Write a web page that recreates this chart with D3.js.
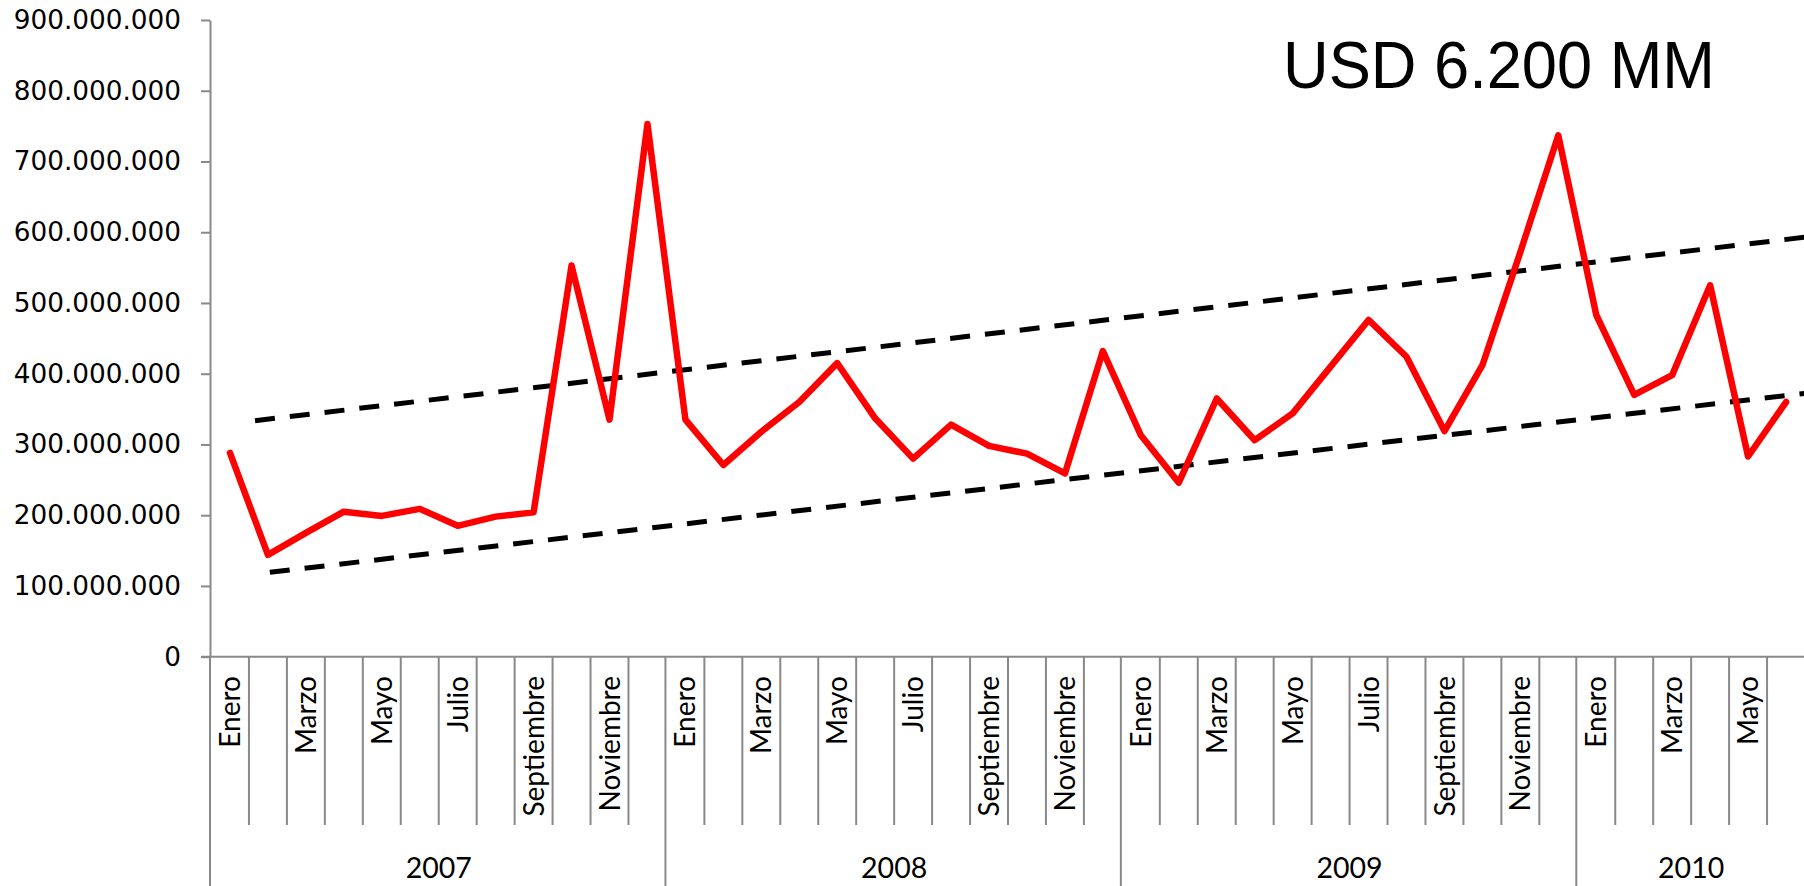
<!DOCTYPE html>
<html>
<head>
<meta charset="utf-8">
<script src="https://cdn.jsdelivr.net/npm/d3@7"></script>
<style>
  html, body { margin: 0; padding: 0; background: #fff; }
  svg { display: block; }
</style>
</head>
<body>
<div id="chart"></div>
<script>
// Monthly values, USD millions
const values2007 = [288, 144, 175, 205, 199, 209, 185, 198, 204, 553, 335, 753];
const values2008 = [335, 271, 318, 360, 415, 337, 280, 328, 298, 287, 259, 432];
const values2009 = [313, 246, 365, 306, 344, 410, 476, 424, 319, 412, 572, 737];
const values2010 = [483, 370, 398, 525, 283, 360];

const monthNames = ["Enero", "Febrero", "Marzo", "Abril", "Mayo", "Junio", "Julio",
  "Agosto", "Septiembre", "Octubre", "Noviembre", "Diciembre"];
const years = ["2007", "2008", "2009", "2010"];
const yTicks = [0, 100, 200, 300, 400, 500, 600, 700, 800, 900];

// Channel lines: [month index, value in millions]
const upperTrend = [[0.66, 333.6], [41.5, 593]];
const lowerTrend = [[1.05, 119.3], [41.5, 372.3]];

const titleText = "USD 6.200 MM";

// Build the series
const yearValues = [values2007, values2008, values2009, values2010];
const data = [];
yearValues.forEach((vals, yi) => {
  vals.forEach((v, mi) => {
    data.push({ i: data.length, year: years[yi], month: monthNames[mi], mIdx: mi, value: v });
  });
});

// Dimensions
const width = 1804;
const height = 886;
const plot = { left: 211, right: 1805, top: 20, bottom: 656.7 };
const axisGray = "#898989";

const svg = d3
  .select("#chart")
  .append("svg")
  .attr("width", width)
  .attr("height", height);

// Scales
const xBand = d3.scaleBand().domain(data.map((d) => d.i)).range([plot.left, plot.right]).padding(0);
const xIdx = d3.scaleLinear().domain([-0.5, data.length - 0.5]).range([plot.left, plot.right]);
const yScale = d3.scaleLinear().domain([0, 900]).range([plot.bottom, plot.top]);

const locale = d3.formatLocale({ decimal: ",", thousands: ".", grouping: [3], currency: ["", ""] });
const fmt = locale.format(",");

// Y axis
const yAxis = svg
  .append("g")
  .attr("transform", `translate(${plot.left - 1},0)`)
  .call(
    d3.axisLeft(yScale)
      .tickValues(yTicks)
      .tickSize(9)
      .tickSizeOuter(0)
      .tickPadding(20)
      .tickFormat((d) => fmt(d * 1e6))
  );
yAxis.select(".domain").attr("stroke", axisGray).attr("stroke-width", 2);
yAxis.selectAll(".tick line").attr("stroke", axisGray).attr("stroke-width", 2);
yAxis.selectAll(".tick text")
  .attr("fill", "#000")
  .style("font-family", "'DejaVu Sans', sans-serif")
  .style("font-size", "26.3px");

// Category axis: month cells and year cells
const yearStarts = [];
let acc = 0;
yearValues.forEach((vals, yi) => {
  yearStarts.push({ year: years[yi], start: acc, count: vals.length });
  acc += vals.length;
});
const yearStartIdx = new Set(yearStarts.map((d) => d.start));

const monthBounds = d3.range(1, data.length + 1).filter((i) => !yearStartIdx.has(i));

svg.append("g")
  .selectAll("line")
  .data(monthBounds)
  .enter()
  .append("line")
  .attr("x1", (i) => xIdx(i - 0.5))
  .attr("x2", (i) => xIdx(i - 0.5))
  .attr("y1", plot.bottom)
  .attr("y2", 825)
  .attr("stroke", axisGray)
  .attr("stroke-width", 2);

svg.append("g")
  .selectAll("line")
  .data(yearStarts)
  .enter()
  .append("line")
  .attr("x1", (d) => xIdx(d.start - 0.5) - 1)
  .attr("x2", (d) => xIdx(d.start - 0.5) - 1)
  .attr("y1", plot.bottom)
  .attr("y2", height)
  .attr("stroke", axisGray)
  .attr("stroke-width", 2);

// horizontal category axis line
svg.append("line")
  .attr("x1", plot.left - 10)
  .attr("x2", width)
  .attr("y1", plot.bottom)
  .attr("y2", plot.bottom)
  .attr("stroke", axisGray)
  .attr("stroke-width", 2);

// month labels (every second month)
svg.append("g")
  .selectAll("text")
  .data(data.filter((d) => d.mIdx % 2 === 0))
  .enter()
  .append("text")
  .attr("transform", (d) => `translate(${xBand(d.i) + xBand.bandwidth() / 2},676) rotate(-90)`)
  .attr("text-anchor", "end")
  .attr("dy", "0.36em")
  .style("font-family", "Lato, sans-serif")
  .style("font-size", "28px")
  .attr("fill", "#000")
  .text((d) => d.month);

// year labels
svg.append("g")
  .selectAll("text")
  .data(yearStarts)
  .enter()
  .append("text")
  .attr("x", (d) => (xIdx(d.start - 0.5) + xIdx(d.start + d.count - 0.5)) / 2)
  .attr("y", 878)
  .attr("text-anchor", "middle")
  .style("font-family", "Lato, sans-serif")
  .style("font-size", "28.5px")
  .attr("fill", "#000")
  .text((d) => d.year);

// Channel (dashed) lines
const trendLine = d3.line().x((d) => xIdx(d[0])).y((d) => yScale(d[1]));
[upperTrend, lowerTrend].forEach((t) => {
  svg.append("path")
    .attr("d", trendLine(t))
    .attr("fill", "none")
    .attr("stroke", "#000")
    .attr("stroke-width", 5)
    .attr("stroke-dasharray", "20,15");
});

// Main series
const line = d3.line()
  .x((d) => xBand(d.i) + xBand.bandwidth() / 2)
  .y((d) => yScale(d.value));

svg.append("path")
  .datum(data)
  .attr("d", line)
  .attr("fill", "none")
  .attr("stroke", "#ff0000")
  .attr("stroke-width", 6.5)
  .attr("stroke-linejoin", "round")
  .attr("stroke-linecap", "round");

// Title annotation
svg.append("text")
  .attr("x", 1283)
  .attr("y", 88)
  .attr("textLength", 432)
  .attr("lengthAdjust", "spacingAndGlyphs")
  .style("font-family", "'Liberation Sans', Arial, sans-serif")
  .style("font-size", "67px")
  .attr("fill", "#000")
  .text(titleText);
</script>
</body>
</html>
